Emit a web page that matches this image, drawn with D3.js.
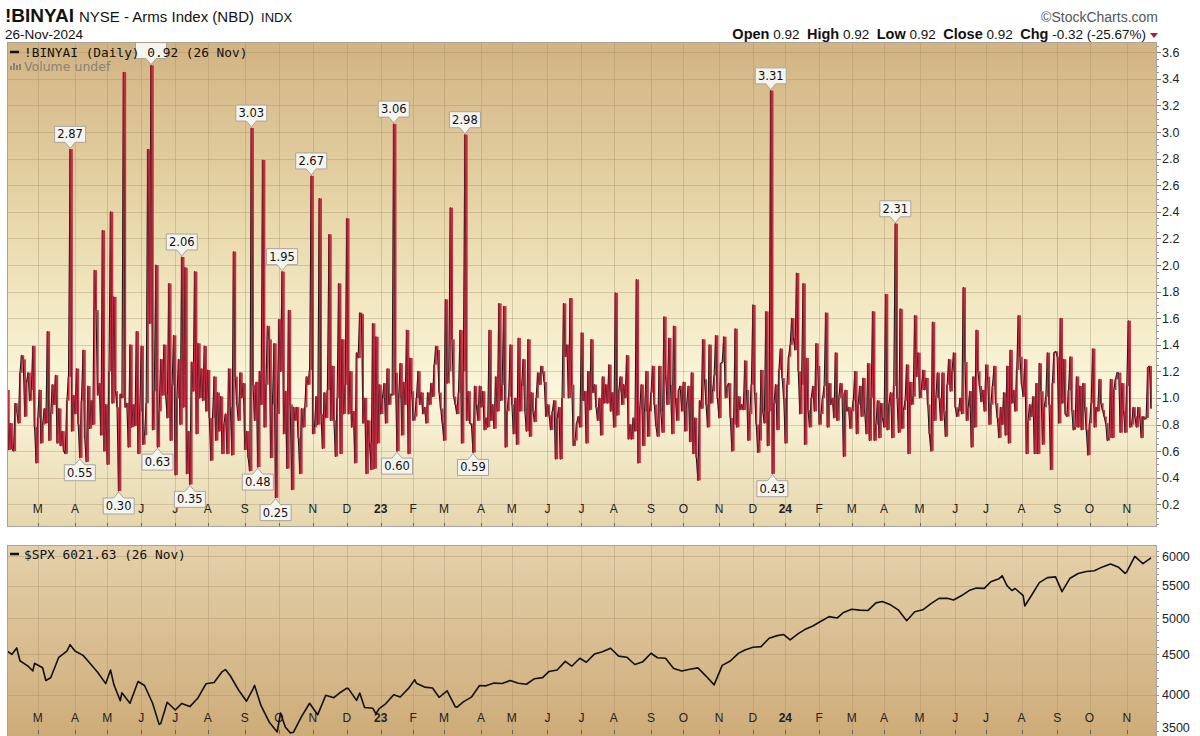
<!DOCTYPE html>
<html><head><meta charset="utf-8">
<script src="https://cdn.jsdelivr.net/npm/d3@7/dist/d3.min.js"></script>
<style>body{margin:0;background:#fff}svg{display:block}</style>
</head><body><svg id="c" width="1200" height="736"></svg>
<script>
// ---------- DATA ----------
const armsValues = [
1.06,0.61,0.81,0.62,0.60,0.96,0.90,0.81,1.19,1.32,
1.29,0.86,1.12,1.19,0.98,1.06,1.39,0.78,0.51,0.85,
1.06,0.66,0.80,0.92,0.81,1.50,0.68,0.88,1.10,0.95,
1.17,0.66,0.92,0.64,0.75,0.60,0.58,0.98,1.16,2.87,
0.75,1.02,0.88,1.22,0.80,0.55,0.98,1.36,0.70,0.52,
1.09,0.77,0.98,0.80,1.96,1.66,1.02,1.11,0.72,2.26,
0.60,0.95,0.50,1.20,2.40,0.96,1.76,1.05,0.93,0.30,
1.03,1.00,3.45,0.93,0.96,0.63,1.40,0.78,0.95,0.79,
1.50,0.58,0.90,1.39,0.65,0.72,0.96,2.87,1.56,3.50,
0.76,1.05,2.00,0.63,0.90,1.29,1.02,1.40,1.03,0.85,
1.86,0.68,1.10,1.47,0.42,1.00,1.29,0.80,2.06,0.93,
1.98,0.43,0.75,0.35,1.27,1.05,1.95,0.73,1.41,1.00,
1.22,0.98,1.39,0.90,1.21,0.85,0.53,0.85,1.16,0.68,
1.04,0.75,1.01,0.58,0.80,0.88,0.58,1.22,0.93,0.57,
2.10,1.16,0.95,0.83,1.19,1.00,1.11,0.61,0.75,0.55,
0.45,3.03,1.10,0.83,1.12,0.48,1.20,0.95,2.79,0.78,
1.10,1.54,1.44,0.55,0.95,1.41,0.25,0.88,1.59,1.20,
1.95,0.73,1.05,0.47,1.66,0.95,0.31,0.93,0.83,0.93,
0.70,0.43,0.92,0.78,0.93,1.16,1.10,1.21,2.67,0.73,
0.78,1.01,0.80,2.50,0.88,0.62,1.04,0.85,1.06,2.23,
0.83,1.24,0.83,0.56,1.00,1.86,0.58,1.44,0.88,1.10,
2.35,0.88,1.20,0.78,0.90,0.51,1.34,1.30,1.64,1.63,
0.81,1.00,0.43,0.83,0.66,0.46,1.56,0.47,1.46,0.66,
1.10,0.88,1.00,1.11,0.81,1.22,0.95,1.03,1.02,3.06,
1.19,0.60,1.00,1.26,0.72,1.12,0.95,1.51,0.58,1.30,
1.05,0.83,0.86,1.00,1.20,0.95,1.04,0.88,0.93,0.81,
1.04,0.95,1.11,1.01,1.25,1.39,1.36,1.04,0.92,0.81,
0.68,1.74,1.11,1.20,2.43,1.44,1.01,0.95,0.88,1.04,
1.51,0.66,1.20,2.98,0.83,1.05,0.81,0.80,0.59,1.09,
0.95,0.83,1.09,0.93,1.05,0.76,0.85,0.78,1.51,0.83,
0.95,0.77,1.16,0.90,1.71,0.98,1.10,1.69,0.63,0.90,
1.01,1.40,0.95,0.73,1.00,0.65,1.45,0.90,1.09,1.29,
0.90,0.75,1.44,0.71,1.04,0.90,0.82,1.00,1.19,1.10,
1.24,1.20,1.12,0.86,0.95,0.87,0.76,0.90,0.98,0.54,
0.85,0.93,0.54,1.00,1.71,1.31,1.40,1.00,1.75,1.10,
0.64,0.68,0.81,0.86,0.78,1.49,0.98,1.05,0.66,1.20,
0.91,1.44,1.04,1.10,0.93,0.83,1.00,0.72,1.16,0.96,
1.10,0.96,1.25,0.90,1.04,0.78,1.79,0.87,1.05,1.16,
0.95,1.10,1.00,1.32,0.69,0.80,0.69,0.85,0.75,1.89,
0.51,0.92,1.10,0.64,0.90,1.20,0.71,0.90,1.04,1.24,
0.95,0.79,0.71,1.24,0.90,0.74,1.61,1.16,0.95,1.45,
1.10,0.73,1.54,1.00,0.83,1.06,1.09,0.90,1.12,0.75,
0.95,1.09,0.67,1.19,0.58,0.85,0.55,0.38,0.98,0.92,
1.44,1.14,0.95,0.78,1.40,0.96,1.05,1.17,1.47,1.00,
0.85,1.26,1.27,1.46,1.00,1.09,1.11,0.85,0.60,0.80,
1.52,0.78,1.01,0.91,0.95,0.91,1.28,1.06,0.68,0.88,
1.10,1.70,1.04,0.80,0.59,0.68,1.21,0.90,0.81,1.65,
0.64,0.90,3.31,0.43,0.96,1.10,0.76,1.21,1.37,1.15,
1.00,0.66,1.10,1.31,1.40,1.60,1.45,1.36,1.94,1.20,
0.88,1.10,1.86,0.65,1.30,0.91,0.78,1.00,1.09,0.90,
1.41,1.24,0.80,0.88,1.00,1.09,1.64,0.78,1.11,0.95,
1.00,0.85,1.34,0.83,1.00,1.11,1.04,0.56,1.06,0.90,
0.93,0.77,0.90,0.98,1.20,0.73,0.95,1.09,0.86,1.15,
0.90,0.73,1.26,0.68,1.00,1.65,0.68,0.80,0.98,0.70,
0.96,0.85,0.78,1.78,0.76,0.95,1.04,0.70,1.09,2.31,
1.00,0.74,1.67,0.77,0.91,0.98,1.25,0.58,1.12,0.95,
1.01,1.62,1.16,1.34,1.00,1.06,1.21,1.06,1.15,0.95,
0.73,0.60,1.57,0.83,1.00,1.19,1.00,0.83,1.19,0.90,
0.71,1.10,1.29,1.05,1.20,1.34,0.93,0.86,0.90,1.00,
0.88,1.83,1.27,0.83,0.93,1.05,0.63,1.16,0.78,1.51,
1.20,1.09,0.97,1.06,0.90,1.25,1.16,0.80,0.95,1.09,
1.24,0.96,0.85,0.70,0.93,0.80,1.04,0.72,1.24,0.66,
1.36,0.96,1.06,0.90,1.21,1.62,1.31,1.10,1.01,1.29,
0.58,0.83,0.95,0.86,1.01,0.58,1.11,0.58,1.26,1.05,
0.65,0.93,1.01,1.34,0.95,0.46,1.11,1.34,1.35,1.31,
0.81,1.60,0.96,1.29,0.88,0.86,1.06,1.31,0.91,0.76,
0.78,1.16,0.78,1.09,0.76,1.11,0.93,0.76,0.57,0.81,
0.96,1.37,0.78,0.93,0.90,1.14,0.96,0.91,0.86,0.81,
0.68,0.70,1.14,0.70,1.06,1.14,1.19,1.19,0.74,1.11,
0.90,0.74,1.09,1.58,0.78,0.80,0.93,0.86,0.78,0.93,
0.86,0.70,0.86,0.84,0.85,1.23,1.24,0.92
];
const marketHolidays = ["2022-02-21","2022-04-15","2022-05-30","2022-06-20","2022-07-04","2022-09-05","2022-11-24","2022-12-26",
"2023-01-02","2023-01-16","2023-02-20","2023-04-07","2023-05-29","2023-06-19","2023-07-04","2023-09-04","2023-11-23","2023-12-25",
"2024-01-01","2024-01-15","2024-02-19","2024-03-29","2024-05-27","2024-06-19","2024-07-04","2024-09-02"];
const firstDate = "2022-02-01";

const spxDates = ["2022-02-01","2022-02-04","2022-02-09","2022-02-11","2022-02-18","2022-02-24","2022-02-25","2022-03-04","2022-03-08","2022-03-11","2022-03-18","2022-03-25","2022-03-29","2022-04-01","2022-04-08","2022-04-14","2022-04-22","2022-04-29","2022-05-04","2022-05-06","2022-05-12","2022-05-13","2022-05-20","2022-05-27","2022-06-03","2022-06-10","2022-06-16","2022-06-17","2022-06-24","2022-07-01","2022-07-08","2022-07-15","2022-07-22","2022-07-29","2022-08-05","2022-08-12","2022-08-16","2022-08-19","2022-08-26","2022-09-02","2022-09-09","2022-09-12","2022-09-16","2022-09-23","2022-09-30","2022-10-04","2022-10-07","2022-10-12","2022-10-14","2022-10-21","2022-10-28","2022-11-04","2022-11-11","2022-11-18","2022-11-25","2022-12-01","2022-12-02","2022-12-09","2022-12-13","2022-12-16","2022-12-23","2022-12-28","2022-12-30",
"2023-01-06","2023-01-13","2023-01-20","2023-01-27","2023-02-02","2023-02-03","2023-02-10","2023-02-17","2023-02-24","2023-03-03","2023-03-10","2023-03-13","2023-03-17","2023-03-24","2023-03-31","2023-04-06","2023-04-14","2023-04-21","2023-04-28","2023-05-05","2023-05-12","2023-05-19","2023-05-26","2023-06-02","2023-06-09","2023-06-16","2023-06-23","2023-06-30","2023-07-07","2023-07-14","2023-07-21","2023-07-28","2023-08-04","2023-08-11","2023-08-18","2023-08-25","2023-09-01","2023-09-08","2023-09-15","2023-09-22","2023-09-29","2023-10-06","2023-10-13","2023-10-20","2023-10-27","2023-11-03","2023-11-10","2023-11-17","2023-11-24","2023-12-01","2023-12-08","2023-12-15","2023-12-22","2023-12-29",
"2024-01-05","2024-01-12","2024-01-19","2024-01-26","2024-02-02","2024-02-09","2024-02-16","2024-02-23","2024-03-01","2024-03-08","2024-03-15","2024-03-22","2024-03-28","2024-04-05","2024-04-12","2024-04-19","2024-04-26","2024-05-03","2024-05-10","2024-05-17","2024-05-24","2024-05-31","2024-06-07","2024-06-14","2024-06-21","2024-06-28","2024-07-05","2024-07-12","2024-07-16","2024-07-19","2024-07-24","2024-07-26","2024-08-02","2024-08-05","2024-08-09","2024-08-16","2024-08-23","2024-08-30","2024-09-06","2024-09-13","2024-09-20","2024-09-27","2024-10-04","2024-10-11","2024-10-18","2024-10-25","2024-10-31","2024-11-01","2024-11-08","2024-11-15","2024-11-22","2024-11-25","2024-11-26"];
const spxValues = [4546,4500,4587,4418,4349,4288,4385,4329,4170,4204,4463,4543,4631,4546,4488,4393,4272,4132,4300,4123,3930,4023,3901,4158,4109,3901,3667,3675,3912,3825,3899,3863,3962,4130,4145,4280,4305,4228,4058,3924,4067,4110,3873,3693,3586,3791,3640,3577,3583,3752,3901,3771,3993,3965,4026,4077,4072,3934,4019,3852,3845,3783,3840,
3895,3999,3973,4071,4179,4136,4090,4079,3970,4046,3862,3855,3917,3971,4109,4105,4138,4133,4169,4136,4124,4192,4205,4282,4299,4410,4348,4450,4399,4505,4536,4582,4478,4464,4370,4406,4516,4457,4450,4320,4288,4309,4327,4224,4117,4358,4415,4514,4559,4595,4604,4719,4755,4770,
4697,4784,4840,4891,4959,5027,5006,5089,5137,5124,5117,5234,5254,5204,5123,4967,5100,5128,5223,5303,5305,5278,5347,5432,5465,5460,5567,5615,5667,5505,5427,5459,5346,5186,5344,5554,5635,5648,5408,5626,5703,5738,5751,5815,5864,5808,5705,5729,5996,5870,5969,5987,6021.63];

const armsTicks = [0.2,0.4,0.6,0.8,1.0,1.2,1.4,1.6,1.8,2.0,2.2,2.4,2.6,2.8,3.0,3.2,3.4,3.6];
const spxTicks = [3500,4000,4500,5000,5500,6000];
const monthLetters = ["J","F","M","A","M","J","J","A","S","O","N","D"];
const calloutIdx = [39,45,69,93,108,113,151,155,166,170,188,239,241,283,288,472,473,549];
const hiddenCalloutIdx = [89];

// ---------- SETUP ----------
const svg = d3.select("#c");
const FONT = "'DejaVu Sans', Verdana, sans-serif";
const MONO = "'DejaVu Sans Mono', 'Liberation Mono', monospace";
const AFONT = "'Liberation Sans', Arial, sans-serif";
const hol = new Set(marketHolidays);
const dates = [];
{ const [y,m,d] = firstDate.split("-").map(Number); const dt = new Date(Date.UTC(y,m-1,d));
  while (dates.length < armsValues.length) { const wd = dt.getUTCDay(); const s = dt.toISOString().slice(0,10);
    if (wd!==0 && wd!==6 && !hol.has(s)) dates.push(s); dt.setUTCDate(dt.getUTCDate()+1); } }
const idxOf = new Map(dates.map((d,i)=>[d,i]));
const N = armsValues.length;

const P1 = {l:7, r:1157, t:42, b:527};
const P2 = {l:7, r:1157, t:545, b:736};
const x = d3.scaleLinear().domain([0, N-1]).range([7, 1151]);
const y1 = d3.scaleLinear().domain([0.2, 3.6]).range([504.3, 52.3]);
const y2 = d3.scaleLog().domain([3500, 6000]).range([740.3, 556.2]);

const defs = svg.append("defs");
const g1 = defs.append("linearGradient").attr("id","bg1").attr("x1",0).attr("y1",0).attr("x2",0).attr("y2",1);
[[0,"#d2b382"],[0.4,"#eadbae"],[0.72,"#fbf7dc"],[1,"#e6d6ad"]].forEach(s=>g1.append("stop").attr("offset",s[0]).attr("stop-color",s[1]));
const g2 = defs.append("linearGradient").attr("id","bg2").attr("x1",0).attr("y1",0).attr("x2",0).attr("y2",1);
[[0,"#e4d0aa"],[1,"#ceac79"]].forEach(s=>g2.append("stop").attr("offset",s[0]).attr("stop-color",s[1]));
defs.append("clipPath").attr("id","cp1").append("rect").attr("x",P1.l).attr("y",P1.t).attr("width",P1.r-P1.l).attr("height",P1.b-P1.t);
defs.append("clipPath").attr("id","cp2").append("rect").attr("x",P2.l).attr("y",P2.t).attr("width",P2.r-P2.l).attr("height",P2.b-P2.t);

const monthStarts = [];
for (let i=1;i<N;i++){ if (dates[i].slice(5,7)!==dates[i-1].slice(5,7)) monthStarts.push(i); }

function panel(P, grad, yScale, ticks, cp, lblY) {
  svg.append("rect").attr("x",P.l).attr("y",P.t).attr("width",P.r-P.l).attr("height",P.b-P.t).attr("fill",`url(#${grad})`);
  const g = svg.append("g").attr("clip-path",`url(#${cp})`);
  g.selectAll(".vg").data(monthStarts).join("line").attr("x1",d=>Math.round(x(d))+0.5).attr("x2",d=>Math.round(x(d))+0.5)
    .attr("y1",P.t).attr("y2",P.b).attr("stroke","#a08a68").attr("stroke-opacity",0.35).attr("stroke-width",1);
  g.selectAll(".hg").data(ticks).join("line").attr("x1",P.l).attr("x2",P.r).attr("y1",d=>Math.round(yScale(d))+0.5).attr("y2",d=>Math.round(yScale(d))+0.5)
    .attr("stroke","#a08a68").attr("stroke-opacity",0.35).attr("stroke-width",1);
  g.selectAll(".ml").data(monthStarts).join("text").attr("x",d=>x(d)).attr("y",lblY).attr("text-anchor","middle")
    .attr("font-family",AFONT).attr("font-size",12).attr("fill","#222")
    .attr("font-weight",d=>dates[d].slice(5,7)==="01"?"bold":"normal")
    .text(d=>{const m=+dates[d].slice(5,7); return m===1 ? dates[d].slice(2,4) : monthLetters[m-1];});
  g.selectAll(".bt").data(monthStarts).join("line").attr("x1",d=>Math.round(x(d))+0.5).attr("x2",d=>Math.round(x(d))+0.5)
    .attr("y1",Math.min(P.b,734)-4).attr("y2",Math.min(P.b,734)).attr("stroke","#666");
  return g;
}

// ---------- TOP PANEL ----------
const gTop = panel(P1, "bg1", y1, armsTicks, "cp1", 513);
gTop.selectAll(".rb").data(armsValues.slice(1)).join("line")
  .attr("x1",(d,i)=>x(i+1)).attr("x2",(d,i)=>x(i+1))
  .attr("y1",(d,i)=>y1(armsValues[i])).attr("y2",d=>y1(d))
  .attr("stroke","#c8283f").attr("stroke-opacity",0.9).attr("stroke-width",2.0).attr("stroke-linecap","butt");
const armsLine = d3.line().x((d,i)=>x(i)).y(d=>y1(d));
gTop.append("path").datum(armsValues).attr("d",armsLine).attr("fill","none").attr("stroke","#1b1b1b").attr("stroke-width",1.1).attr("stroke-linejoin","round");
gTop.selectAll(".rb2").data(armsValues.slice(1)).join("line")
  .attr("x1",(d,i)=>x(i+1)+0.3).attr("x2",(d,i)=>x(i+1)+0.3)
  .attr("y1",(d,i)=>y1(armsValues[i])).attr("y2",d=>y1(d))
  .attr("stroke","#c8283f").attr("stroke-opacity",0.75).attr("stroke-width",1.3).attr("stroke-linecap","butt");

function callout(i, showText) {
  const v = armsValues[i]; const cx = x(i); const up = v > 1.0;
  const txt = v.toFixed(2); const w = 31, h = 16, ph = 6;
  let tip, bTop, bBot, pBase;
  if (up) { tip = y1(v) - 1; pBase = tip - ph; bBot = pBase; bTop = bBot - h; }
  else { tip = y1(v) + 1; pBase = tip + ph; bTop = pBase; bBot = bTop + h; }
  const L = cx - w/2, R = cx + w/2;
  const path = up
    ? `M${L},${bTop}H${R}V${bBot}H${cx+5}L${cx},${tip}L${cx-5},${bBot}H${L}Z`
    : `M${L},${bBot}H${R}V${bTop}H${cx+5}L${cx},${tip}L${cx-5},${bTop}H${L}Z`;
  gTop.append("path").attr("d",path).attr("fill","#f6f4ee").attr("stroke","#a9a49a").attr("stroke-width",1);
  if (showText) gTop.append("text").attr("x",cx).attr("y",(bTop+bBot)/2+4).attr("text-anchor","middle")
    .attr("font-family",FONT).attr("font-size",11.5).attr("fill","#111").text(txt);
}
calloutIdx.forEach(i=>callout(i,true));
hiddenCalloutIdx.forEach(i=>callout(i,false));

svg.append("line").attr("x1",10).attr("x2",19).attr("y1",52).attr("y2",52).attr("stroke","#111").attr("stroke-width",2.5);
svg.append("text").attr("x",24).attr("y",57).attr("font-family",MONO).attr("font-size",12.8).attr("fill","#111")
  .text(`!BINYAI (Daily) ${armsValues[N-1].toFixed(2)} (26 Nov)`);
[[10,66,4],[13,63,7],[16,65,5],[19,64,6]].forEach(b=>svg.append("rect").attr("x",b[0]).attr("y",b[1]).attr("width",2).attr("height",b[2]).attr("fill","#8a8276"));
svg.append("text").attr("x",24).attr("y",71).attr("font-family",FONT).attr("font-size",12.5).attr("fill","#8a8276").text("Volume undef");

svg.append("rect").attr("x",P1.l+0.5).attr("y",P1.t+0.5).attr("width",P1.r-P1.l-1).attr("height",P1.b-P1.t-1).attr("fill","none").attr("stroke","#aaa39a");

svg.selectAll(".ra").data(armsTicks).join("text").attr("x",1162).attr("y",d=>y1(d)+4.5).attr("font-family",AFONT).attr("font-size",12.5).attr("fill","#222").text(d=>d.toFixed(1));
const minorArms = d3.range(0.05, 3.66, 0.05);
svg.selectAll(".rm").data(minorArms).join("line").attr("x1",P1.r).attr("x2",P1.r+2).attr("y1",d=>Math.round(y1(d))+0.5).attr("y2",d=>Math.round(y1(d))+0.5).attr("stroke","#9a8f84");
svg.selectAll(".rM").data(armsTicks).join("line").attr("x1",P1.r).attr("x2",P1.r+4).attr("y1",d=>Math.round(y1(d))+0.5).attr("y2",d=>Math.round(y1(d))+0.5).attr("stroke","#777");

// ---------- BOTTOM PANEL ----------
const gBot = panel(P2, "bg2", y2, spxTicks, "cp2", 722);
const spxPts = spxDates.map((d,k)=>({i: idxOf.get(d), v: spxValues[k]})).filter(p=>p.i!==undefined);
gBot.append("path").datum(spxPts).attr("d", d3.line().x(p=>x(p.i)).y(p=>y2(p.v))).attr("fill","none").attr("stroke","#111").attr("stroke-width",1.6).attr("stroke-linejoin","round");
svg.append("line").attr("x1",10).attr("x2",19).attr("y1",554).attr("y2",554).attr("stroke","#111").attr("stroke-width",2.5);
svg.append("text").attr("x",24).attr("y",559).attr("font-family",MONO).attr("font-size",12.8).attr("fill","#111")
  .text(`$SPX ${spxValues[spxValues.length-1].toFixed(2)} (26 Nov)`);
svg.append("rect").attr("x",P2.l+0.5).attr("y",P2.t+0.5).attr("width",P2.r-P2.l-1).attr("height",P2.b-P2.t+2).attr("fill","none").attr("stroke","#aaa39a");
svg.selectAll(".rb3").data(spxTicks).join("text").attr("x",1162).attr("y",d=>Math.min(y2(d),727)+4.5).attr("font-family",AFONT).attr("font-size",12.5).attr("fill","#222").text(d=>d);
const minorSpx = d3.range(3500, 6101, 100);
svg.selectAll(".rm2").data(minorSpx).join("line").attr("x1",P2.r).attr("x2",P2.r+2).attr("y1",d=>Math.round(y2(d))+0.5).attr("y2",d=>Math.round(y2(d))+0.5).attr("stroke","#9a8f84");

// ---------- HEADER ----------
const h = svg.append("text").attr("x",5).attr("y",22).attr("font-family",AFONT).attr("fill","#111");
h.append("tspan").attr("font-size",19).attr("font-weight","bold").text("!BINYAI");
h.append("tspan").attr("font-size",15).attr("dx",5).text("NYSE - Arms Index (NBD)");
h.append("tspan").attr("font-size",13).attr("dx",7).text("INDX");
svg.append("text").attr("x",5).attr("y",39).attr("font-family",AFONT).attr("font-size",13.5).attr("fill","#111").text("26-Nov-2024");
svg.append("text").attr("x",1158).attr("y",22).attr("text-anchor","end").attr("font-family",AFONT).attr("font-size",14).attr("fill","#555").text("\u00A9StockCharts.com");
const o = svg.append("text").attr("x",1146).attr("y",39).attr("text-anchor","end").attr("font-family",AFONT).attr("fill","#111");
[["Open"," 0.92  "],["High"," 0.92  "],["Low"," 0.92  "],["Close"," 0.92  "],["Chg"," -0.32 (-25.67%)"]].forEach(p=>{
  o.append("tspan").attr("font-weight","bold").attr("font-size",14.5).text(p[0]);
  o.append("tspan").attr("font-size",13.5).attr("xml:space","preserve").text(p[1]);
});
svg.append("path").attr("d","M1150,33 L1158,33 L1154,38 Z").attr("fill","#b01c34");
</script></body></html>
